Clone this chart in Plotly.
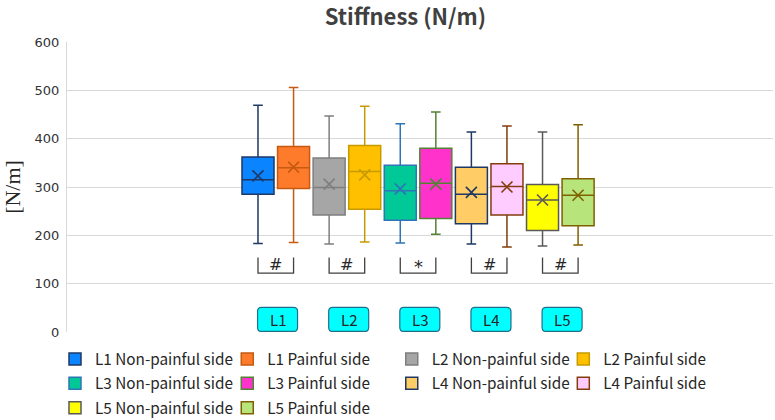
import plotly.graph_objects as go

# box statistics, one entry per box (left to right)
names = ["L1 Non-painful side", "L1 Painful side", "L2 Non-painful side", "L2 Painful side",
         "L3 Non-painful side", "L3 Painful side", "L4 Non-painful side", "L4 Painful side",
         "L5 Non-painful side", "L5 Painful side"]
positions = [1, 2, 3, 4, 5, 6, 7, 8, 9, 10]
lower = [183, 185, 182, 186, 184, 202, 182, 176, 178, 180]
q1 = [285, 297, 242, 254, 231, 235, 224, 242, 210, 220]
median = [315, 340, 299, 332, 292, 308, 285, 301, 273, 283]
q3 = [362, 384, 360, 386, 345, 380, 341, 348, 305, 317]
upper = [469, 506, 447, 467, 431, 455, 414, 426, 414, 429]
means = [323, 341, 306, 325, 296, 306, 289, 300, 273, 283]

fills = ["#0a84ff", "#ff7b2c", "#a6a6a6", "#ffc000", "#00c896",
         "#ff33cc", "#ffcc66", "#ffccff", "#ffff00", "#b8e47c"]
lines = ["#1f3864", "#c55a11", "#7f7f7f", "#c79a00", "#2e75b6",
         "#548235", "#1f3864", "#843c0c", "#595959", "#7f6000"]

levels = ["L1", "L2", "L3", "L4", "L5"]
signif = ["#", "#", "*", "#", "#"]

# which of the four legend columns each box goes into
legend_ids = ["legend", "legend2", "legend3", "legend4"] * 2 + ["legend", "legend2"]

fig = go.Figure()

for i in range(len(names)):
    fig.add_trace(go.Box(
        name=names[i],
        x=[positions[i]],
        lowerfence=[lower[i]], q1=[q1[i]], median=[median[i]],
        q3=[q3[i]], upperfence=[upper[i]],
        width=0.9,
        whiskerwidth=0.3,
        fillcolor=fills[i],
        line=dict(color=lines[i], width=1.5),
        legend=legend_ids[i],
        legendgroup=names[i],
    ))
    fig.add_trace(go.Scatter(
        x=[positions[i]], y=[means[i]],
        mode="markers",
        marker=dict(symbol="x-thin", size=11, line=dict(color=lines[i], width=1.6)),
        showlegend=False,
        hoverinfo="skip",
    ))

# significance brackets and level labels
br_top, br_bottom, br_text = 154, 122, 140
for k in range(len(levels)):
    xa = positions[2 * k]
    xb = positions[2 * k + 1]
    fig.add_shape(type="path",
                  path=f"M {xa},{br_top} L {xa},{br_bottom} L {xb},{br_bottom} L {xb},{br_top}",
                  xref="x", yref="y", line=dict(color="#404040", width=1.3))
    fig.add_annotation(x=(xa + xb) / 2, y=br_text, text=signif[k], showarrow=False,
                       font=dict(family="DejaVu Sans", size=16 if signif[k] == "#" else 18,
                                 color="#262626"),
                       yshift=-2 if signif[k] == "*" else 0)
    # rounded cyan tag
    w, h, r = 20, 12, 4
    p = (f"M {-w + r},{-h} L {w - r},{-h} Q {w},{-h} {w},{-h + r} L {w},{h - r} "
         f"Q {w},{h} {w - r},{h} L {-w + r},{h} Q {-w},{h} {-w},{h - r} "
         f"L {-w},{-h + r} Q {-w},{-h} {-w + r},{-h} Z")
    fig.add_shape(type="path", path=p, xref="x", yref="y",
                  xsizemode="pixel", ysizemode="pixel",
                  xanchor=(xa + xb) / 2 + 0.05, yanchor=26,
                  fillcolor="#00ffff", line=dict(color="#1f6f8b", width=1.2))
    fig.add_annotation(x=(xa + xb) / 2 + 0.05, y=26, text=levels[k], showarrow=False,
                       font=dict(family="Noto Sans CJK SC", size=15, color="#262626"))

legend_style = dict(orientation="v", yanchor="top", y=-0.036, xanchor="left",
                    font=dict(family="Noto Sans CJK SC", size=15.3, color="#262626"),
                    tracegroupgap=1.5, bgcolor="rgba(0,0,0,0)")

fig.update_layout(
    width=775, height=420,
    margin=dict(l=67, r=2, t=42, b=88, autoexpand=False),
    paper_bgcolor="white", plot_bgcolor="white",
    title=dict(text="<b>Stiffness (N/m)</b>", x=0.523, xanchor="center",
               y=0.958, yanchor="middle",
               font=dict(family="Noto Sans CJK SC", size=22, color="#404040")),
    boxmode="overlay",
    xaxis=dict(range=[-4.37, 15.48], showticklabels=False, showgrid=False,
               zeroline=False, showline=False, ticks=""),
    yaxis=dict(range=[0, 600], dtick=100, showgrid=True, gridcolor="#d9d9d9", gridwidth=1,
               zeroline=False, showline=True, linecolor="#d9d9d9", linewidth=1,
               ticklabelstandoff=4,
               tickfont=dict(family="DejaVu Sans", size=13, color="#333333"),
               title=dict(text="[N/m]", font=dict(family="Liberation Serif", size=22,
                                                  color="#262626"), standoff=12)),
    legend=dict(legend_style, x=-0.017),
    legend2=dict(legend_style, x=0.227),
    legend3=dict(legend_style, x=0.460),
    legend4=dict(legend_style, x=0.703),
)

fig.write_html("out.html", config={"displayModeBar": False},
               post_script="document.body.style.margin='0';")
